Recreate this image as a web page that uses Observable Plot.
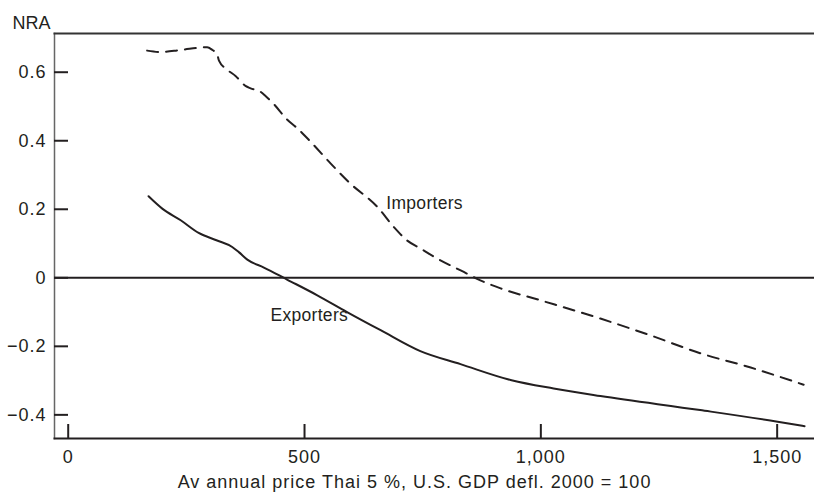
<!DOCTYPE html>
<html><head><meta charset="utf-8">
<script src="https://cdn.jsdelivr.net/npm/d3@7"></script>
<script src="https://cdn.jsdelivr.net/npm/@observablehq/plot@0.6"></script>
<style>
  html,body{margin:0;padding:0;background:#fff;}
  svg{display:block;}
</style>
</head><body><div id="chart"></div>
<script>
// Importers (dashed)
const importersX = [167, 196, 238, 294, 305, 315, 319, 336, 354, 375, 386, 407, 418, 435, 463, 485, 513, 555, 597, 654, 689, 717, 746, 781, 837, 865, 915, 1000, 1126, 1232, 1337, 1444, 1556];
const importersY = [0.663, 0.659, 0.665, 0.673, 0.665, 0.653, 0.634, 0.608, 0.589, 0.560, 0.553, 0.543, 0.530, 0.507, 0.462, 0.436, 0.397, 0.334, 0.275, 0.207, 0.148, 0.109, 0.085, 0.056, 0.017, -0.003, -0.031, -0.066, -0.119, -0.168, -0.220, -0.262, -0.312];
// Exporters (solid)
const exportersX = [170, 199, 238, 276, 315, 347, 361, 379, 414, 463, 527, 590, 661, 745, 830, 938, 1027, 1126, 1337, 1501, 1558];
const exportersY = [0.238, 0.202, 0.168, 0.131, 0.109, 0.090, 0.075, 0.053, 0.030, -0.005, -0.051, -0.100, -0.153, -0.214, -0.252, -0.299, -0.323, -0.345, -0.386, -0.420, -0.433];

const xTicks = [0, 500, 1000, 1500];
const yTicks = [-0.4, -0.2, 0, 0.2, 0.4, 0.6];
const xTitle = "Av annual price Thai 5 %, U.S. GDP defl. 2000 = 100";
const yTitle = "NRA";
const seriesNames = ["Importers", "Exporters"];
const labelX = [673, 428];
const labelY = [0.217, -0.109];

const importers = importersX.map((x, i) => ({x, y: importersY[i]}));
const exporters = exportersX.map((x, i) => ({x, y: exportersY[i]}));
const labels = seriesNames.map((name, i) => ({name, x: labelX[i], y: labelY[i]}));

const ink = "#231f20";
const fmtY = d => d === 0 ? "0" : d3.format(".1f")(d);

const chart = Plot.plot({
  width: 814,
  height: 498,
  marginLeft: 54,
  marginRight: 0,
  marginTop: 33,
  marginBottom: 60,
  style: {fontFamily: "'Liberation Sans', Arial, sans-serif", fontSize: "18px", color: ink, background: "#fff", letterSpacing: "1px"},
  x: {domain: [-29, 1579]},
  y: {domain: [-0.469, 0.713]},
  marks: [
    Plot.frame({anchor: "left", stroke: "#666", strokeWidth: 1.5}),
    Plot.frame({anchor: "top", stroke: "#333", strokeWidth: 2}),
    Plot.frame({anchor: "bottom", stroke: ink, strokeWidth: 2}),
    Plot.axisY(yTicks, {tickSize: 0, tickPadding: 8, tickFormat: fmtY, fontSize: 18, fill: ink, label: null}),
    Plot.axisX(xTicks, {tickSize: 0, tickPadding: 12, tickFormat: d3.format(","), fontSize: 18, fill: ink, label: null}),
    Plot.tickY(yTicks, {y: d => d, insetRight: 746, stroke: ink, strokeWidth: 2}),
    Plot.tickX(xTicks, {x: d => d, insetTop: 391, stroke: ink, strokeWidth: 2}),
    Plot.ruleY([0], {stroke: ink, strokeWidth: 2}),
    Plot.line(importers, {x: "x", y: "y", stroke: ink, strokeWidth: 2, strokeDasharray: "11,8", curve: "monotone-x"}),
    Plot.line(exporters, {x: "x", y: "y", stroke: ink, strokeWidth: 2, curve: "monotone-x"}),
    Plot.text(labels, {x: "x", y: "y", text: "name", textAnchor: "start", fontSize: 17.5, fill: ink}),
    Plot.text([xTitle], {text: d => d, frameAnchor: "bottom", dy: 49, dx: -20, fontSize: 18, fill: ink}),
    Plot.text([yTitle], {text: d => d, frameAnchor: "top-left", textAnchor: "start", dx: -42, dy: -17, fontSize: 18, fill: ink})
  ]
});
const textGroups = chart.querySelectorAll('g[aria-label="text"]');
if (textGroups[0]) textGroups[0].style.letterSpacing = "0.3px";
if (textGroups[2]) textGroups[2].style.letterSpacing = "0px";
document.getElementById("chart").appendChild(chart);
</script>
</body></html>
